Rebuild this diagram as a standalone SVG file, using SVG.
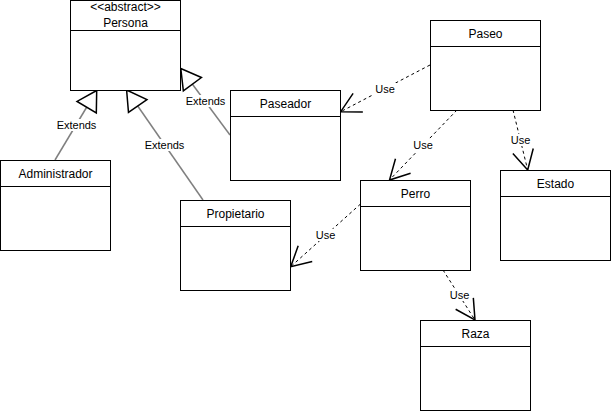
<svg xmlns="http://www.w3.org/2000/svg" width="611" height="411" viewBox="0 0 611 411">
<defs>
<style>
.box{fill:#fff;stroke:#000;stroke-width:1}
.t{font-family:"Liberation Sans",Arial,sans-serif;font-size:12px;fill:#000;text-anchor:middle}
.lbl{font-family:"Liberation Sans",Arial,sans-serif;font-size:11px;fill:#000;text-anchor:middle}
.ext{fill:none;stroke:#808080;stroke-width:1.5;marker-end:url(#tri)}
.use{fill:none;stroke:#000;stroke-width:1;stroke-dasharray:3 3;marker-end:url(#open)}
.bg{fill:#fff}
</style>
<marker id="tri" markerUnits="userSpaceOnUse" markerWidth="30" markerHeight="30" viewBox="-16 -10 18 20" refX="0" refY="0" orient="auto">
<path d="M0,0 L-13,-7.5 L-13,7.5 Z" fill="#fff" stroke="#000" stroke-width="1"/>
</marker>
<marker id="open" markerUnits="userSpaceOnUse" markerWidth="30" markerHeight="30" viewBox="-16 -10 18 20" refX="0" refY="0" orient="auto">
<path d="M-13,-7 L0,0 L-13,7" fill="none" stroke="#000" stroke-width="1"/>
</marker>
</defs>
<rect width="611" height="411" fill="#fff"/>

<g id="connectors">
<path class="ext" d="M55,160 L96.7,90.5"/>
<path class="ext" d="M203,200 L126.6,90"/>
<path class="ext" d="M230,135 L180.8,68.5"/>
<path class="use" d="M430,65 L340.7,111.7"/>
<path class="use" d="M457,110 L389.5,180"/>
<path class="use" d="M513,110 L527.7,170"/>
<path class="use" d="M360.5,204 L290.7,266.7"/>
<path class="use" d="M443,270 L475,320"/>
<rect class="bg" x="56" y="119" width="41" height="12"/>
<text class="lbl" x="76.5" y="129">Extends</text>
<rect class="bg" x="144" y="139" width="41" height="12"/>
<text class="lbl" x="164.5" y="149">Extends</text>
<rect class="bg" x="185" y="95" width="41" height="12"/>
<text class="lbl" x="205.5" y="105">Extends</text>
<rect class="bg" x="374" y="83" width="22" height="12"/>
<text class="lbl" x="385" y="92.5">Use</text>
<rect class="bg" x="412" y="139" width="22" height="12"/>
<text class="lbl" x="423" y="149">Use</text>
<rect class="bg" x="510" y="134" width="22" height="12"/>
<text class="lbl" x="520.5" y="144">Use</text>
<rect class="bg" x="315" y="229" width="22" height="12"/>
<text class="lbl" x="325.5" y="239">Use</text>
<rect class="bg" x="449" y="289" width="22" height="12"/>
<text class="lbl" x="459.5" y="299">Use</text>
</g>

<g id="persona">
<rect class="box" x="70.5" y="0.5" width="110" height="90"/>
<line x1="70.5" y1="30.5" x2="180.5" y2="30.5" stroke="#000"/>
<text class="t" x="125.5" y="11">&lt;&lt;abstract&gt;&gt;</text>
<text class="t" x="125.5" y="27">Persona</text>
</g>
<g id="administrador">
<rect class="box" x="0.5" y="160.5" width="110" height="90"/>
<line x1="0.5" y1="186.5" x2="110.5" y2="186.5" stroke="#000"/>
<text class="t" x="55.5" y="178">Administrador</text>
</g>
<g id="paseador">
<rect class="box" x="230.5" y="90.5" width="110" height="90"/>
<line x1="230.5" y1="116.5" x2="340.5" y2="116.5" stroke="#000"/>
<text class="t" x="285.5" y="108">Paseador</text>
</g>
<g id="propietario">
<rect class="box" x="180.5" y="200.5" width="110" height="90"/>
<line x1="180.5" y1="226.5" x2="290.5" y2="226.5" stroke="#000"/>
<text class="t" x="235.5" y="218">Propietario</text>
</g>
<g id="paseo">
<rect class="box" x="430.5" y="20.5" width="110" height="90"/>
<line x1="430.5" y1="46.5" x2="540.5" y2="46.5" stroke="#000"/>
<text class="t" x="485.5" y="38">Paseo</text>
</g>
<g id="perro">
<rect class="box" x="360.5" y="180.5" width="110" height="90"/>
<line x1="360.5" y1="206.5" x2="470.5" y2="206.5" stroke="#000"/>
<text class="t" x="415.5" y="198">Perro</text>
</g>
<g id="estado">
<rect class="box" x="500.5" y="170.5" width="110" height="90"/>
<line x1="500.5" y1="196.5" x2="610.5" y2="196.5" stroke="#000"/>
<text class="t" x="555.5" y="188">Estado</text>
</g>
<g id="raza">
<rect class="box" x="420.5" y="320.5" width="110" height="90"/>
<line x1="420.5" y1="346.5" x2="530.5" y2="346.5" stroke="#000"/>
<text class="t" x="475.5" y="338">Raza</text>
</g>
</svg>
